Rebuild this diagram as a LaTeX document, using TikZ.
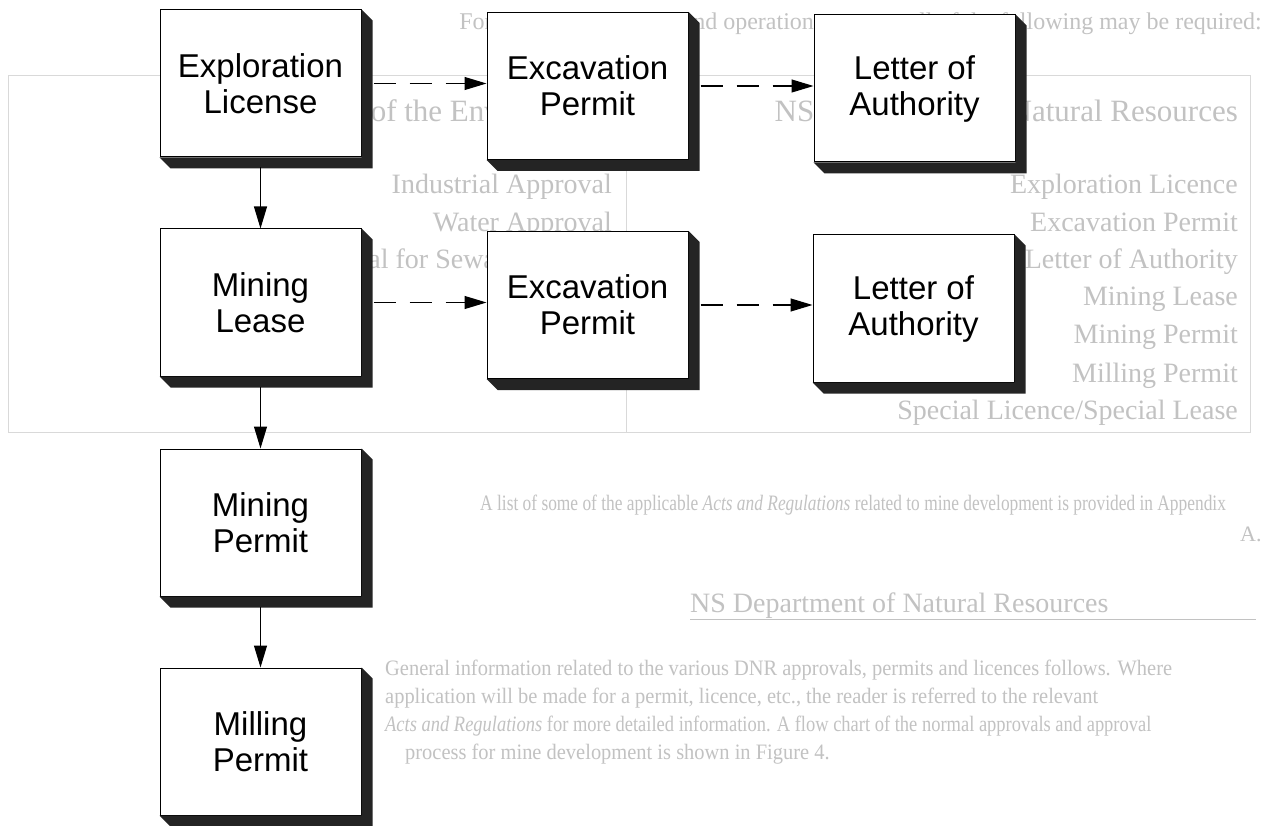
\documentclass[tikz,border=0pt]{standalone}
\usepackage{fontspec}
\setmainfont{Liberation Sans}
\newfontfamily\bgfont{Liberation Serif}
\usetikzlibrary{arrows.meta}
\definecolor{bgtext}{gray}{0.76}
\definecolor{bgline}{gray}{0.85}
\definecolor{shadowc}{gray}{0.14}
\newcommand\boxshadow[1]{%
  \fill[shadowc] (#1.north east) -- ++(11,11) -- ([shift={(11,11)}]#1.south east)
    -- ([shift={(11,11)}]#1.south west) -- (#1.south west) -- (#1.south east) -- cycle;}
\begin{document}
\begin{tikzpicture}[x=1pt,y=-1pt,
  pbox/.style={draw=black, line width=1pt, fill=white, minimum width=201pt,
    minimum height=147pt, inner sep=0pt, align=center,
    font=\fontsize{33}{36}\selectfont},
  solidarrow/.style={line width=1.1pt, -{Triangle[length=22pt,width=13pt]}},
  dasharrow/.style={line width=1.1pt, dash pattern=on 22pt off 14pt,
    -{Triangle[length=22pt,width=13pt]}},
  bg/.style={text=bgtext, inner sep=0pt, font=\bgfont\fontsize{28}{28}\selectfont},
  bghead/.style={bg, font=\bgfont\fontsize{31}{31}\selectfont},
  bgsmall/.style={bg, font=\bgfont\fontsize{22}{22}\selectfont},
]
\useasboundingbox (0,0) rectangle (1264,826);
\clip (0,0) rectangle (1264,826);
\fill[white] (0,0) rectangle (1264,826);

% ---- faint background page text ----
\node[bgsmall, anchor=base east, font=\bgfont\fontsize{24}{24}\selectfont] (intro) at (1262,30)
  {For mine development and operation, some or all of the following may be required:};
\draw[bgline, line width=1pt] (8,76) rectangle (1250,432);
\draw[bgline, line width=1pt] (626,76) -- (626,432);
\node[bghead, anchor=base east] (hdrR) at (1238,122) {NS Department of Natural Resources};
\node[bghead, anchor=base east] (hdrL) at (612,122) {NS Department of the Environment};
\node[bg, anchor=base east] (r1) at (1238,194) {Exploration Licence};
\node[bg, anchor=base east] (r2) at (1238,232) {Excavation Permit};
\node[bg, anchor=base east] (r3) at (1238,269) {Letter of Authority};
\node[bg, anchor=base east] (r4) at (1238,306) {Mining Lease};
\node[bg, anchor=base east] (r5) at (1238,344) {Mining Permit};
\node[bg, anchor=base east] (r6) at (1238,382) {Milling Permit};
\node[bg, anchor=base east] (r7) at (1238,419) {Special Licence/Special Lease};
\node[bg, anchor=base east] (l1t) at (612,194) {Industrial Approval};
\node[bg, anchor=base east] (l2t) at (612,232) {Water Approval};
\node[bg, anchor=base east] (l3t) at (612,269) {Approval for Sewage System};
\node[bgsmall, anchor=base west] (alist) at (480,510)
  {\scalebox{0.79}[1]{A list of some of the applicable \emph{Acts and Regulations} related to mine development is provided in Appendix}};
\node[bgsmall, anchor=base west] (aend) at (1240,541) {A.};
\node[bg, anchor=base west] (nsdnr) at (690,612) {NS Department of Natural Resources};
\draw[bgtext, line width=1pt] (nsdnr.base west) ++(0,7) -- ++(566,0);
\node[bgsmall, anchor=base west] (p1) at (385,675)
  {\scalebox{0.93}[1]{General information related to the various DNR approvals, permits and licences follows. Where}};
\node[bgsmall, anchor=base west] (p2) at (385,703)
  {\scalebox{0.93}[1]{application will be made for a permit, licence, etc., the reader is referred to the relevant}};
\node[bgsmall, anchor=base west] (p3) at (385,731)
  {\scalebox{0.84}[1]{\emph{Acts and Regulations} for more detailed information. A flow chart of the normal approvals and approval}};
\node[bgsmall, anchor=base west] (p4) at (405,759)
  {\scalebox{0.93}[1]{process for mine development is shown in Figure 4.}};

% ---- flowchart boxes ----
\node[pbox] (expl) at (260.5,83.5) {Exploration\\License};
\node[pbox] (exc1) at (587.5,86) {Excavation\\Permit};
\node[pbox] (loa1) at (914.5,88.5) {Letter of\\Authority};
\node[pbox] (lease) at (260.5,302.5) {Mining\\Lease};
\node[pbox] (exc2) at (587.5,305) {Excavation\\Permit};
\node[pbox] (loa2) at (913.5,308.5) {Letter of\\Authority};
\node[pbox] (mperm) at (260.5,522.5) {Mining\\Permit};
\node[pbox] (mill) at (260.5,741.5) {Milling\\Permit};
\foreach \b in {expl,exc1,loa1,lease,exc2,loa2,mperm,mill} {\boxshadow{\b}}

% ---- connectors ----
\draw[solidarrow] ([yshift=-10pt]expl.south) -- (lease.north);
\draw[solidarrow] ([yshift=-10pt]lease.south) -- (mperm.north);
\draw[solidarrow] ([yshift=-10pt]mperm.south) -- (mill.north);
\draw[dasharrow] ([xshift=12pt]expl.east) -- (exc1.west |- expl.east);
\draw[dasharrow] ([xshift=12pt]exc1.east) -- (loa1.west |- exc1.east);
\draw[dasharrow] ([xshift=12pt]lease.east) -- (exc2.west |- lease.east);
\draw[dasharrow] ([xshift=12pt]exc2.east) -- (loa2.west |- exc2.east);
\end{tikzpicture}
\end{document}
